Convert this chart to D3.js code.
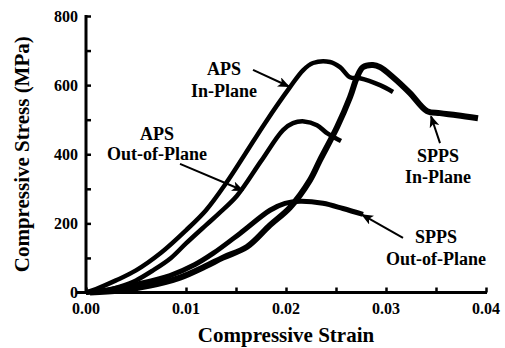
<!DOCTYPE html>
<html>
<head>
<meta charset="utf-8">
<script src="https://cdn.jsdelivr.net/npm/d3@7"></script>
<style>
  body { margin: 0; background: #fff; }
</style>
</head>
<body>
<svg class="mainSvg"></svg>
<script>
// ===========================================================================
//     data area
// ===========================================================================
const apsInPlane = [
  [0, 0], [0.001, 10], [0.003, 35], [0.005, 64], [0.0075, 115], [0.010, 180],
  [0.012, 238], [0.014, 316], [0.0159, 400], [0.0179, 490], [0.0204, 594],
  [0.0217, 643], [0.0227, 664], [0.0244, 667], [0.0254, 652], [0.0264, 623],
  [0.0274, 620], [0.0294, 600], [0.0307, 580],
];
const apsOutOfPlane = [
  [0, 0], [0.002, 6], [0.0034, 17], [0.005, 35], [0.0067, 64], [0.0085, 100],
  [0.010, 142], [0.012, 195], [0.0133, 229], [0.0151, 280], [0.0175, 380],
  [0.0197, 470], [0.0207, 490], [0.0218, 495], [0.0231, 484], [0.0241, 461],
  [0.0255, 438],
];
const sppsInPlane = [
  [0.0004, 0], [0.0034, 6], [0.0064, 20], [0.0094, 43], [0.0119, 75],
  [0.0137, 101], [0.0161, 132], [0.0184, 195], [0.0204, 246], [0.0224, 325],
  [0.0234, 383], [0.0251, 478], [0.0264, 565], [0.0271, 623], [0.0277, 652],
  [0.0287, 658], [0.0294, 652], [0.0307, 623], [0.0324, 577], [0.0341, 525],
  [0.0354, 519], [0.0371, 513], [0.0392, 504],
];
const sppsOutOfPlane = [
  [0, 0], [0.0024, 9], [0.0054, 26], [0.0084, 49], [0.0109, 81], [0.0127, 113],
  [0.0154, 171], [0.0184, 238], [0.0199, 258], [0.0214, 264], [0.0237, 258],
  [0.0257, 243], [0.0277, 226],
];
const curveWidths = [4.5, 4.5, 6, 5];

const xTicks = [0, 0.01, 0.02, 0.03, 0.04];
const yTicks = [0, 200, 400, 600, 800];

// label lines, label centre (strain), baselines (stress), arrow from -> to
const labels = [
  { lines: ['APS', 'In-Plane'], x: 0.0138, y: [629, 565], from: [0.0167, 644], to: [0.0203, 596] },
  { lines: ['APS', 'Out-of-Plane'], x: 0.0071, y: [441, 383], from: [0.0094, 372], to: [0.0157, 295] },
  { lines: ['SPPS', 'In-Plane'], x: 0.0352, y: [378, 317], from: [0.0354, 432], to: [0.0345, 510] },
  { lines: ['SPPS', 'Out-of-Plane'], x: 0.035, y: [143, 80], from: [0.0317, 158], to: [0.0276, 225] },
];

const initWidth = 505;
const initHeight = 348;
const fontFamily = 'Liberation Serif';

// ===========================================================================
//      procedure
// ===========================================================================
const svg = d3.select('.mainSvg')
  .attr('width', initWidth)
  .attr('height', initHeight);

const x = d3.scaleLinear().domain([0, 0.04]).range([86, 486]);
const y = d3.scaleLinear().domain([0, 800]).range([292.5, 16]);

function label(sel, size) {
  return sel
    .attr('font-family', fontFamily)
    .attr('font-weight', 'bold')
    .attr('font-size', size)
    .attr('fill', '#000');
}

svg.append('defs').append('marker')
  .attr('id', 'arrow')
  .attr('viewBox', '0 0 12 10')
  .attr('refX', 11)
  .attr('refY', 5)
  .attr('markerWidth', 12)
  .attr('markerHeight', 10)
  .attr('markerUnits', 'userSpaceOnUse')
  .attr('orient', 'auto')
  .append('path')
  .attr('d', 'M0 0 L12 5 L0 10 L3 5 Z')
  .attr('fill', '#000');

// ===========================================================================
//      draw curves
// ===========================================================================
const line = d3.line()
  .x(function (d) { return x(d[0]); })
  .y(function (d) { return y(d[1]); })
  .curve(d3.curveCatmullRom.alpha(0.5));

[apsInPlane, apsOutOfPlane, sppsInPlane, sppsOutOfPlane].forEach(function (series, idx) {
  svg.append('path')
    .attr('d', line(series))
    .attr('fill', 'none')
    .attr('stroke', '#000')
    .attr('stroke-width', curveWidths[idx])
    .attr('stroke-linejoin', 'round')
    .attr('stroke-linecap', 'butt');
});

// ===========================================================================
//      axes
// ===========================================================================
const xAxis = svg.append('g')
  .attr('transform', `translate(0,${y(0)})`)
  .call(d3.axisTop(x).tickValues(d3.range(0, 0.0401, 0.005)).tickSize(5).tickFormat(''));
xAxis.select('.domain').remove();
xAxis.selectAll('line').attr('stroke', '#000').attr('stroke-width', 2.5);

const yAxis = svg.append('g')
  .attr('transform', `translate(${x(0)},0)`)
  .call(d3.axisRight(y).tickValues(d3.range(0, 801, 100)).tickSize(5).tickFormat(''));
yAxis.select('.domain').remove();
yAxis.selectAll('line').attr('stroke', '#000').attr('stroke-width', 2.5);

svg.append('line')
  .attr('x1', x(0) - 10).attr('x2', x(0.04) + 1)
  .attr('y1', y(0)).attr('y2', y(0))
  .attr('stroke', '#000').attr('stroke-width', 3);
svg.append('line')
  .attr('x1', x(0)).attr('x2', x(0))
  .attr('y1', y(800) - 1).attr('y2', y(0) + 1.5)
  .attr('stroke', '#000').attr('stroke-width', 3);

svg.append('g')
  .selectAll('text')
  .data(xTicks)
  .enter()
  .append('text')
  .call(label, 16)
  .attr('x', function (d) { return x(d); })
  .attr('y', 314)
  .attr('text-anchor', 'middle')
  .text(function (d) { return d.toFixed(2); });

svg.append('g')
  .selectAll('text')
  .data(yTicks)
  .enter()
  .append('text')
  .call(label, 16)
  .attr('x', 78)
  .attr('y', function (d) { return y(d) + 5.5; })
  .attr('text-anchor', 'end')
  .text(function (d) { return d; });

svg.append('text')
  .call(label, 21)
  .attr('x', x(0.02))
  .attr('y', 342)
  .attr('text-anchor', 'middle')
  .text('Compressive Strain');

svg.append('text')
  .call(label, 21)
  .attr('transform', `translate(29,${y(400)}) rotate(-90)`)
  .attr('text-anchor', 'middle')
  .text('Compressive Stress (MPa)');

// ===========================================================================
//      labels and arrows
// ===========================================================================
labels.forEach(function (lab) {
  lab.lines.forEach(function (t, i) {
    svg.append('text')
      .call(label, 18)
      .attr('x', x(lab.x))
      .attr('y', y(lab.y[i]))
      .attr('text-anchor', 'middle')
      .text(t);
  });
  svg.append('line')
    .attr('x1', x(lab.from[0])).attr('y1', y(lab.from[1]))
    .attr('x2', x(lab.to[0])).attr('y2', y(lab.to[1]))
    .attr('stroke', '#000')
    .attr('stroke-width', 2)
    .attr('marker-end', 'url(#arrow)');
});
</script>
</body>
</html>
